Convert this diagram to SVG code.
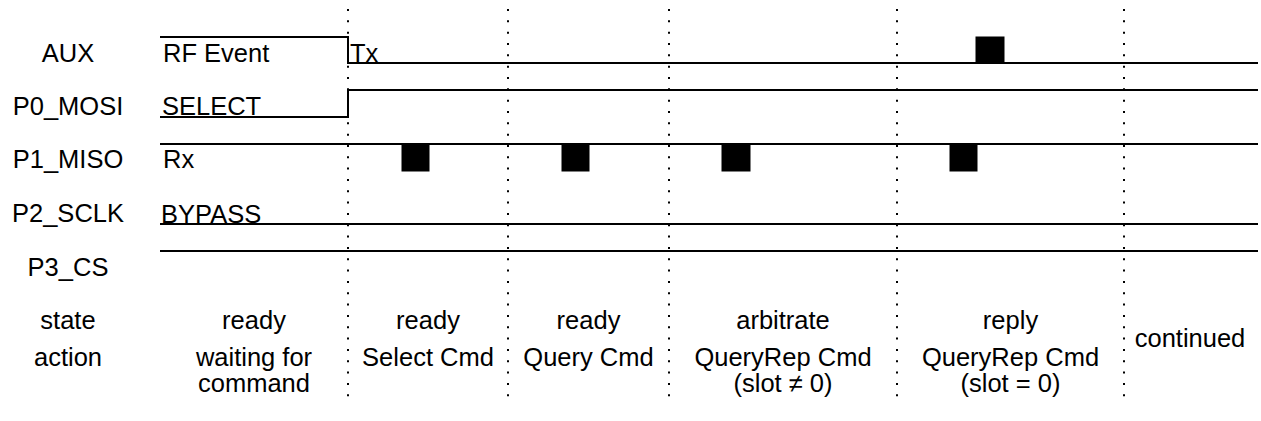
<svg xmlns="http://www.w3.org/2000/svg" width="1261" height="421" viewBox="0 0 1261 421">
<style>
text{font-family:"Liberation Sans",Arial,sans-serif;font-size:25.5px;fill:#000}
.c{text-anchor:middle}
.sig{fill:none;stroke:#000;stroke-width:2}
.box{fill:#000;stroke:#000;stroke-width:1}
.grid{stroke:#000;stroke-width:2;stroke-dasharray:2 9.33}
</style>
<rect width="1261" height="421" fill="#fff"/>
<g id="grid">
<line class="grid" x1="348" y1="9" x2="348" y2="400"/>
<line class="grid" x1="508" y1="9" x2="508" y2="400"/>
<line class="grid" x1="669" y1="9" x2="669" y2="400"/>
<line class="grid" x1="897" y1="9" x2="897" y2="400"/>
<line class="grid" x1="1124" y1="9" x2="1124" y2="400"/>
</g>
<g id="labels">
<text class="c" x="68" y="62">AUX</text>
<text class="c" x="68" y="115">P0_MOSI</text>
<text class="c" x="68" y="168">P1_MISO</text>
<text class="c" x="68" y="222">P2_SCLK</text>
<text class="c" x="68" y="276">P3_CS</text>
<text class="c" x="68" y="329">state</text>
<text class="c" x="68" y="366">action</text>
</g>
<g id="aux">
<path class="sig" d="M160,37 H348 V63 H1258"/>
<rect class="box" x="976" y="37" width="28" height="26"/>
<text x="163" y="62">RF Event</text>
<text x="350" y="62">Tx</text>
</g>
<g id="p0">
<path class="sig" d="M160,117 H348 V90 H1258"/>
<text x="162" y="115">SELECT</text>
</g>
<g id="p1">
<path class="sig" d="M160,144 H1258"/>
<rect class="box" x="402" y="144" width="27" height="27"/>
<rect class="box" x="562" y="144" width="27" height="27"/>
<rect class="box" x="722" y="144" width="28" height="27"/>
<rect class="box" x="950" y="144" width="27" height="27"/>
<text x="163" y="168">Rx</text>
</g>
<g id="p2">
<path class="sig" d="M160,224 H1258"/>
<text x="161" y="223">BYPASS</text>
</g>
<g id="p3">
<path class="sig" d="M160,251 H1258"/>
</g>
<g id="phase1">
<text class="c" x="254" y="329">ready</text>
<text class="c" x="254" y="366">waiting for</text>
<text class="c" x="254" y="392">command</text>
</g>
<g id="phase2">
<text class="c" x="428" y="329">ready</text>
<text class="c" x="428" y="366">Select Cmd</text>
</g>
<g id="phase3">
<text class="c" x="588.5" y="329">ready</text>
<text class="c" x="588.5" y="366">Query Cmd</text>
</g>
<g id="phase4">
<text class="c" x="783" y="329">arbitrate</text>
<text class="c" x="783" y="366">QueryRep Cmd</text>
<text class="c" x="783" y="392">(slot ≠ 0)</text>
</g>
<g id="phase5">
<text class="c" x="1010.5" y="329">reply</text>
<text class="c" x="1010.5" y="366">QueryRep Cmd</text>
<text class="c" x="1010.5" y="392">(slot = 0)</text>
</g>
<g id="phase6">
<text class="c" x="1190" y="347">continued</text>
</g>
</svg>
